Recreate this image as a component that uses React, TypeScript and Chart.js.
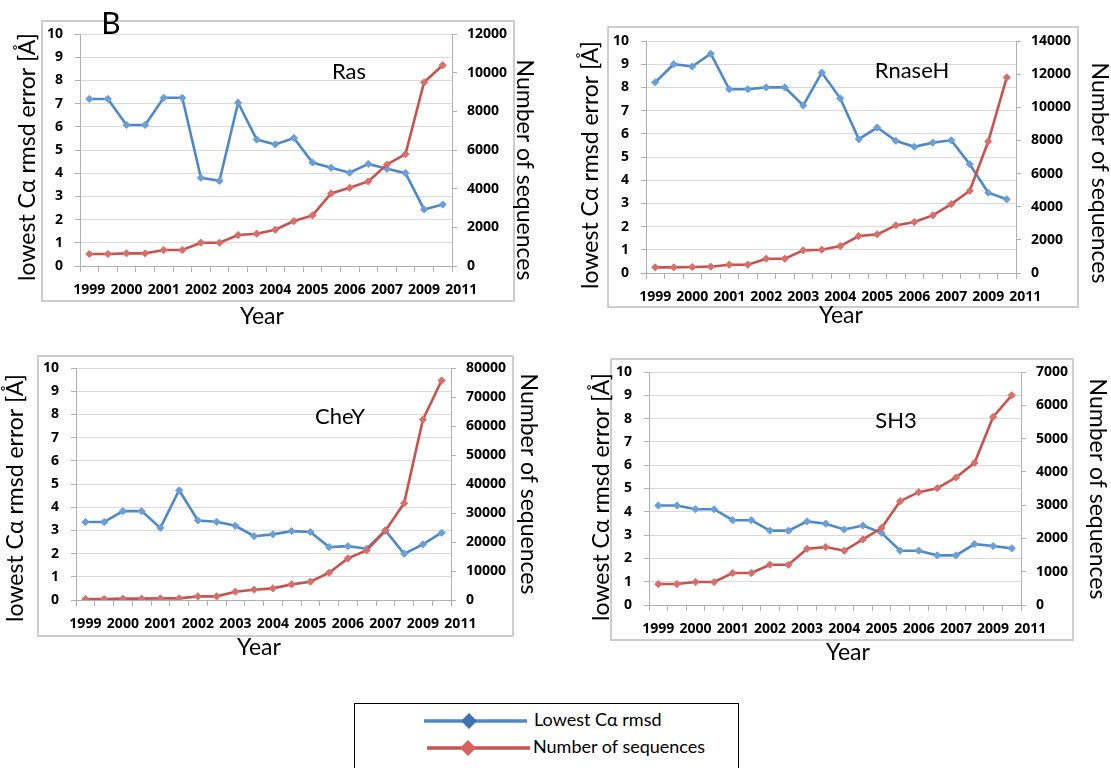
import React, { useEffect, useRef } from "react";
import { Chart, registerables } from "chart.js";

Chart.register(...registerables);

// ---------------- data ----------------
// one observation every half year -> 20 slots; a label every second slot
const xTickLabels = ["1999", "2000", "2001", "2002", "2003", "2004", "2005", "2006", "2007", "2009", "2011"];
const seriesNames = ["Lowest Cα rmsd", "Number of sequences"];
const leftAxisTitle = "lowest Cα rmsd error [Å]";
const rightAxisTitle = "Number of sequences";
const xAxisTitle = "Year";

const rasRmsd = [7.2, 7.2, 6.08, 6.08, 7.25, 7.25, 3.8, 3.67, 7.04, 5.45, 5.24, 5.52, 4.46, 4.23, 4.02, 4.4, 4.19, 4.0, 2.44, 2.65];
const rasSeqs = [620, 620, 654, 654, 826, 826, 1205, 1205, 1601, 1670, 1877, 2324, 2617, 3753, 4046, 4373, 5251, 5785, 9504, 10385];

const rnaseHRmsd = [8.22, 9.0, 8.9, 9.45, 7.92, 7.92, 8.0, 8.0, 7.22, 8.64, 7.53, 5.77, 6.27, 5.7, 5.44, 5.62, 5.72, 4.69, 3.46, 3.18];
const rnaseHSeqs = [341, 341, 362, 382, 502, 502, 864, 864, 1366, 1406, 1627, 2230, 2330, 2872, 3073, 3475, 4158, 4961, 7934, 11800];

const cheYRmsd = [3.36, 3.36, 3.83, 3.83, 3.11, 4.73, 3.43, 3.37, 3.2, 2.75, 2.83, 2.97, 2.93, 2.28, 2.32, 2.21, 3.0, 1.99, 2.4, 2.9];
const cheYSeqs = [344, 344, 459, 459, 574, 574, 1263, 1263, 2869, 3558, 4017, 5395, 6313, 9412, 14347, 17102, 23874, 33400, 62210, 75700];

const sh3Rmsd = [4.27, 4.27, 4.11, 4.11, 3.64, 3.64, 3.19, 3.19, 3.59, 3.49, 3.24, 3.41, 3.1, 2.33, 2.33, 2.13, 2.13, 2.61, 2.53, 2.43];
const sh3Seqs = [630, 630, 690, 690, 960, 960, 1210, 1210, 1690, 1740, 1630, 1970, 2310, 3120, 3390, 3510, 3830, 4270, 5650, 6300];

// ---------------- style ----------------
const FONT = "Lato, 'Open Sans', 'DejaVu Sans', sans-serif";
const TICK_FONT = "'Open Sans', Lato, 'DejaVu Sans', sans-serif";
const BLUE = "#4F88C6";
const BLUE_PT = "#6A9FD8";
const RED = "#C8524E";
const RED_PT = "#D8706A";
const GRID = "#D9D9D9";
const AXIS = "#B0B0B0";

type Rect = { x: number; y: number; w: number; h: number };
type Area = { l: number; t: number; r: number; b: number };
type Panel = {
  name: string;
  rmsd: number[];
  seqs: number[];
  seqMax: number;
  seqStep: number;
  canvas: Rect;
  area: Area;
  border: Area;
  leftTitle: [number, number];
  rightTitle: [number, number];
  yearPos: [number, number];
  namePos: [number, number];
  letter?: [number, number];
};

const panels: Panel[] = [
  {
    name: "Ras", rmsd: rasRmsd, seqs: rasSeqs, seqMax: 12000, seqStep: 2000,
    canvas: { x: 0, y: 0, w: 560, h: 345 },
    area: { l: 80, t: 34, r: 452, b: 266 },
    border: { l: 41, t: 20, r: 515, b: 302 },
    leftTitle: [28, 157], rightTitle: [524, 170], yearPos: [262, 317], namePos: [349, 72],
    letter: [111, 24],
  },
  {
    name: "RnaseH", rmsd: rnaseHRmsd, seqs: rnaseHSeqs, seqMax: 14000, seqStep: 2000,
    canvas: { x: 560, y: 0, w: 551, h: 345 },
    area: { l: 646, t: 41, r: 1016, b: 273 },
    border: { l: 607, t: 26, r: 1079, b: 308 },
    leftTitle: [591, 165], rightTitle: [1099, 173], yearPos: [841, 316], namePos: [912, 71],
  },
  {
    name: "CheY", rmsd: cheYRmsd, seqs: cheYSeqs, seqMax: 80000, seqStep: 10000,
    canvas: { x: 0, y: 345, w: 560, h: 345 },
    area: { l: 76, t: 368, r: 451, b: 600 },
    border: { l: 37, t: 355, r: 514, b: 637 },
    leftTitle: [16, 498], rightTitle: [528, 484], yearPos: [259, 648], namePos: [340, 417],
  },
  {
    name: "SH3", rmsd: sh3Rmsd, seqs: sh3Seqs, seqMax: 7000, seqStep: 1000,
    canvas: { x: 560, y: 345, w: 551, h: 345 },
    area: { l: 649, t: 372, r: 1021, b: 605 },
    border: { l: 610, t: 358, r: 1074, b: 641 },
    leftTitle: [602, 497], rightTitle: [1097, 489], yearPos: [848, 653], namePos: [896, 421],
  },
];

type TextItem = { text: string; x: number; y: number; font: string; rot?: number };

function makeTextPlugin(items: TextItem[]) {
  return {
    id: "panelText",
    afterDraw(chart: any) {
      const ctx: CanvasRenderingContext2D = chart.ctx;
      for (const t of items) {
        ctx.save();
        ctx.translate(t.x, t.y);
        if (t.rot) ctx.rotate((t.rot * Math.PI) / 180);
        ctx.font = t.font;
        ctx.fillStyle = "#000";
        ctx.textAlign = "center";
        ctx.textBaseline = "middle";
        ctx.fillText(t.text, 0, 0);
        ctx.restore();
      }
    },
  };
}

function PanelChart({ p }: { p: Panel }) {
  const ref = useRef<HTMLCanvasElement | null>(null);
  useEffect(() => {
    if (!ref.current) return;
    const cx = p.canvas.x;
    const cy = p.canvas.y;
    const leftW = p.area.l - cx;
    const rightW = cx + p.canvas.w - p.area.r;
    const bottomH = cy + p.canvas.h - p.area.b;
    const topPad = p.area.t - cy;

    const items: TextItem[] = [
      { text: leftAxisTitle, x: p.leftTitle[0] - cx, y: p.leftTitle[1] - cy, font: `23px ${FONT}`, rot: -90 },
      { text: rightAxisTitle, x: p.rightTitle[0] - cx, y: p.rightTitle[1] - cy, font: `23px ${FONT}`, rot: 90 },
      { text: xAxisTitle, x: p.yearPos[0] - cx, y: p.yearPos[1] - cy, font: `23px ${FONT}` },
      { text: p.name, x: p.namePos[0] - cx, y: p.namePos[1] - cy, font: `22px ${FONT}` },
    ];
    if (p.letter) items.push({ text: "B", x: p.letter[0] - cx, y: p.letter[1] - cy, font: `30px ${FONT}` });

    const tickFont = { family: TICK_FONT, size: 14, weight: "bold" as const };

    const chart = new Chart(ref.current, {
      type: "line",
      data: {
        datasets: [
          {
            label: seriesNames[1],
            data: p.seqs.map((v, i) => ({ x: i, y: v })),
            yAxisID: "y1",
            borderColor: RED,
            borderWidth: 2.6,
            pointStyle: "rectRot",
            pointRadius: 3.6,
            pointBackgroundColor: RED_PT,
            pointBorderColor: RED_PT,
            pointBorderWidth: 1,
            tension: 0,
            order: 0,
          },
          {
            label: seriesNames[0],
            data: p.rmsd.map((v, i) => ({ x: i, y: v })),
            yAxisID: "y",
            borderColor: BLUE,
            borderWidth: 2.6,
            pointStyle: "rectRot",
            pointRadius: 3.6,
            pointBackgroundColor: BLUE_PT,
            pointBorderColor: BLUE_PT,
            pointBorderWidth: 1,
            tension: 0,
            order: 1,
          },
        ],
      },
      options: {
        animation: false,
        responsive: false,
        devicePixelRatio: 1,
        layout: { padding: { top: topPad, left: 0, right: 0, bottom: 0 } },
        plugins: { legend: { display: false }, tooltip: { enabled: false } },
        scales: {
          x: {
            type: "linear",
            position: "bottom",
            min: -0.5,
            max: 19.5,
            afterBuildTicks: (scale: any) => {
              scale.ticks = Array.from({ length: 21 }, (_, i) => ({ value: i }));
            },
            afterFit: (scale: any) => {
              scale.height = bottomH;
            },
            ticks: {
              autoSkip: false,
              maxRotation: 0,
              minRotation: 0,
              padding: 10,
              color: "#000",
              font: tickFont,
              callback: (value: any) => {
                const v = Number(value);
                return v % 2 === 0 ? xTickLabels[v / 2] : "";
              },
            },
            grid: { display: true, drawOnChartArea: false, drawTicks: true, tickLength: 6, offset: true, color: AXIS, tickColor: AXIS },
            border: { display: true, color: AXIS, width: 1 },
          },
          y: {
            type: "linear",
            position: "left",
            min: 0,
            max: 10,
            afterFit: (scale: any) => {
              scale.width = leftW;
            },
            ticks: { stepSize: 1, padding: 12, color: "#000", font: tickFont, callback: (v: any) => String(v) },
            grid: { color: GRID, tickColor: AXIS, tickLength: 5, drawTicks: true },
            border: { display: true, color: AXIS, width: 1 },
          },
          y1: {
            type: "linear",
            position: "right",
            min: 0,
            max: p.seqMax,
            afterFit: (scale: any) => {
              scale.width = rightW;
            },
            ticks: { stepSize: p.seqStep, padding: 10, color: "#000", font: tickFont, callback: (v: any) => String(v) },
            grid: { drawOnChartArea: false, tickColor: AXIS, tickLength: 5, drawTicks: true },
            border: { display: true, color: AXIS, width: 1 },
          },
        },
      },
      plugins: [makeTextPlugin(items)],
    } as any);
    return () => chart.destroy();
  }, [p]);

  return (
    <>
      <div
        style={{
          position: "absolute",
          left: p.border.l,
          top: p.border.t,
          width: p.border.r - p.border.l,
          height: p.border.b - p.border.t,
          border: "2px solid #CDCDCD",
          boxSizing: "border-box",
        }}
      />
      <canvas
        ref={ref}
        width={p.canvas.w}
        height={p.canvas.h}
        style={{ position: "absolute", left: p.canvas.x, top: p.canvas.y, width: p.canvas.w, height: p.canvas.h }}
      />
    </>
  );
}

function Legend() {
  const rows = [
    { name: seriesNames[0], color: BLUE, mark: "#3F72B0", y: 17, x1: 69, x2: 172, mx: 114, tx: 179 },
    { name: seriesNames[1], color: RED, mark: "#D6625C", y: 44, x1: 72, x2: 175, mx: 113, tx: 178 },
  ];
  return (
    <div
      style={{
        position: "absolute",
        left: 354,
        top: 703,
        width: 385,
        height: 70,
        border: "1.5px solid #000",
        boxSizing: "border-box",
        background: "#fff",
      }}
    >
      <svg width={382} height={66} style={{ position: "absolute", left: 0, top: 0 }}>
        {rows.map((r) => (
          <g key={r.name}>
            <line x1={r.x1} y1={r.y} x2={r.x2} y2={r.y} stroke={r.color} strokeWidth={3.5} />
            <polygon
              points={`${r.mx},${r.y - 8} ${r.mx + 8},${r.y} ${r.mx},${r.y + 8} ${r.mx - 8},${r.y}`}
              fill={r.mark}
            />
            <text x={r.tx} y={r.y - 2} fontFamily={FONT} fontSize={18} fill="#000" dominantBaseline="central">
              {r.name}
            </text>
          </g>
        ))}
      </svg>
    </div>
  );
}

export default function App() {
  return (
    <div style={{ position: "absolute", left: 0, top: 0, width: 1111, height: 768, background: "#fff", overflow: "hidden" }}>
      {panels.map((p) => (
        <PanelChart key={p.name} p={p} />
      ))}
      <Legend />
    </div>
  );
}
